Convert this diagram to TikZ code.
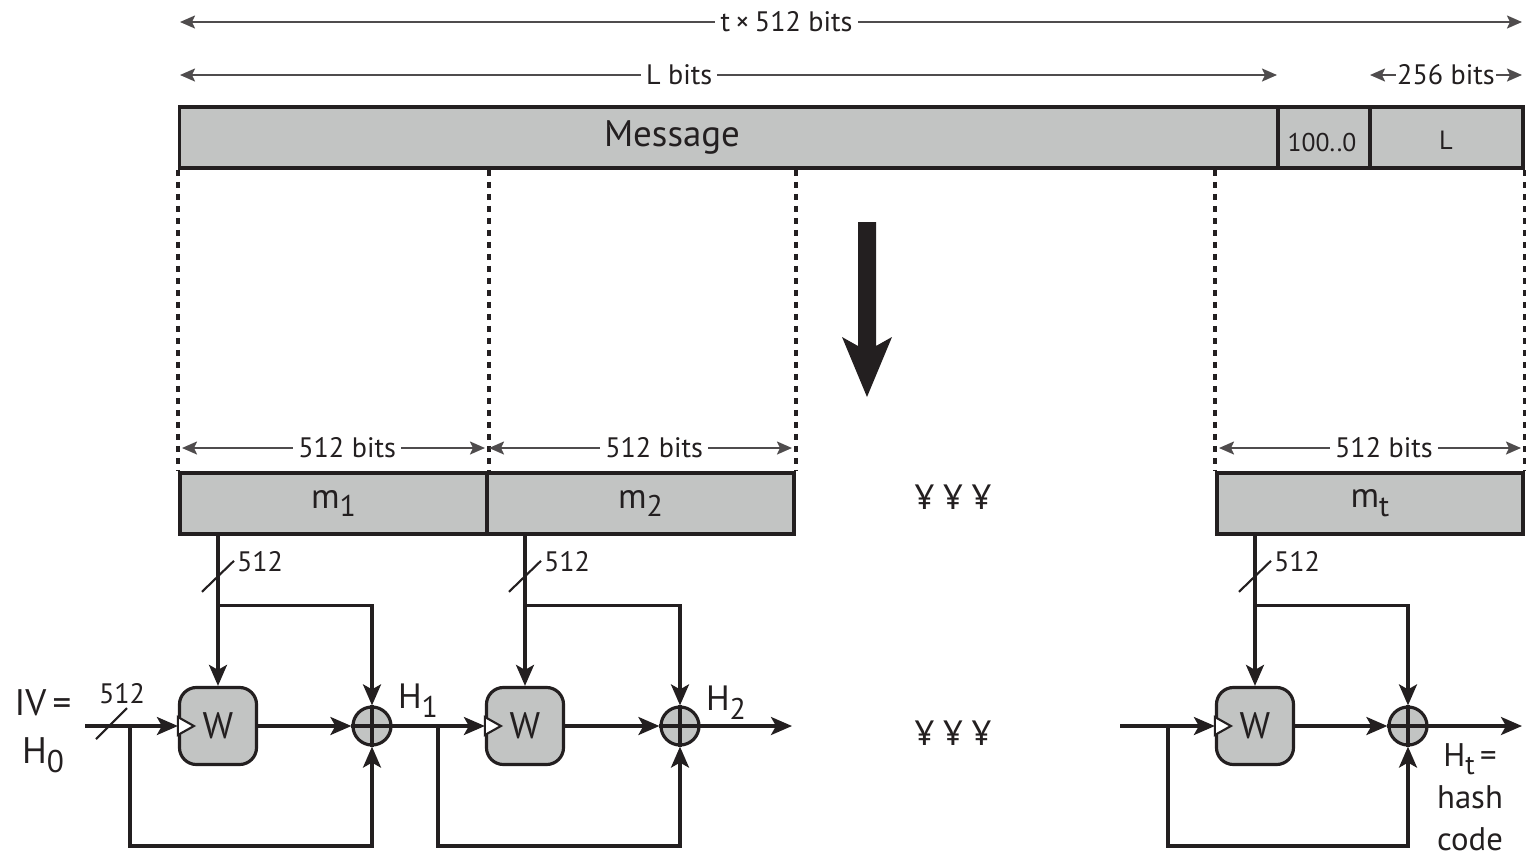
\documentclass[tikz,border=0pt]{standalone}
\usepackage{fontspec}
\setmainfont{PT Sans}
\usetikzlibrary{arrows.meta}
\definecolor{ink}{RGB}{35,31,32}
\definecolor{boxgray}{RGB}{194,196,195}
\newcommand\mysub[1]{\raisebox{-0.5ex}{\scalebox{0.85}{#1}}}
\begin{document}
\begin{tikzpicture}[x=0.01cm,y=-0.01cm,
  every node/.style={inner sep=0pt, text=ink},
  bar/.style={draw=ink, line width=1pt, fill=boxgray, minimum height=0.61cm, inner sep=0pt},
  wbox/.style={draw=ink, line width=0.9pt, fill=boxgray, rounded corners=0.17cm, minimum width=0.77cm, minimum height=0.77cm, font=\fontsize{10.5}{12}\selectfont},
  xorc/.style={circle, draw=ink, line width=0.9pt, fill=boxgray, minimum size=0.38cm},
  wire/.style={draw=ink, line width=0.9pt},
  slash/.style={draw=ink, line width=0.6pt},
  arr/.style={wire, -{Stealth[length=0.21cm,width=0.18cm,inset=0.05cm]}},
  dimline/.style={draw=ink!80, line width=0.55pt, {Stealth[length=0.15cm,width=0.13cm,inset=0.03cm]}-{Stealth[length=0.15cm,width=0.13cm,inset=0.03cm]}},
  dots/.style={draw=ink, line width=1.1pt, dash pattern=on 0.065cm off 0.055cm},
  big/.style={font=\fontsize{10}{12}\selectfont},
  small/.style={font=\fontsize{8}{9.5}\selectfont},
  lbl/.style={fill=white, inner xsep=1.5pt, inner ysep=1pt, small},
]
\useasboundingbox (0,0) rectangle (1526,857);

% top dimension lines
\coordinate (tA) at (180,22); \coordinate (tB) at (1522,22);
\draw[dimline] (tA) -- (tB) node[lbl,pos=0.452] (tlab) {t\kern1.5pt×\kern1.5pt512 bits};
\coordinate (lA) at (180,75); \coordinate (lB) at (1277,75);
\draw[dimline] (lA) -- (lB) node[lbl,pos=0.455] (llab) {L bits};
\coordinate (sA) at (1370,75); \coordinate (sB) at (1522,75);
\draw[dimline] (sA) -- (sB) node[lbl,pos=0.5,inner xsep=0.3pt] (slab) {256 bits};

% message bar
\node[bar, minimum width=10.98cm] (msg) at (729,137.5) {};
\node[bar, minimum width=0.92cm] (pad) at (1324,137.5) {};
\node[bar, minimum width=1.53cm] (len) at (1446.5,137.5) {};
\node[font=\fontsize{10.5}{12}\selectfont] (msgt) at (672,137) {Message};
\node[font=\fontsize{7.3}{9}\selectfont] (padt) at (1322,143) {100..0};
\node[font=\fontsize{7.5}{9}\selectfont] (lent) at (1446,140) {L};

% blocks
\node[bar, minimum width=3.07cm, big] (m1) at (333.5,503.5) {m\mysub{1}};
\node[bar, minimum width=3.07cm, big] (m2) at (640.5,503.5) {m\mysub{2}};
\node[bar, minimum width=3.06cm, big] (mt) at (1370,503.5) {m\mysub{t}};

% dotted guide lines
\draw[dots] (m1.north west |- msg.south) -- (m1.north west);
\draw[dots] (m1.north east |- msg.south) -- (m1.north east);
\draw[dots] (m2.north east |- msg.south) -- (m2.north east);
\draw[dots] (mt.north west |- msg.south) -- (mt.north west);
\draw[dots] (mt.north east |- msg.south) -- (mt.north east);

% 512 bits dims
\draw[dimline] (182,448) -- (485,448) node[lbl,pos=0.545] {512 bits};
\draw[dimline] (489,448) -- (792,448) node[lbl,pos=0.545] {512 bits};
\draw[dimline] (1219,448) -- (1521,448) node[lbl,pos=0.546] {512 bits};

% big down arrow
\fill[ink] (858,222) -- (876,222) -- (876,346) -- (892,337) -- (867,397) -- (842,337) -- (858,346) -- cycle;

% dots
\node[big] (dotsA) at (953,497) {¥ ¥ ¥};
\node[big] (dotsB) at (953,733) {¥ ¥ ¥};

% compression stages
\node[wbox] (W1) at (218,726) {W};
\node[xorc] (X1) at (372,726) {};
\node[wbox] (W2) at (525,726) {W};
\node[xorc] (X2) at (680,726) {};
\node[wbox] (W3) at (1255,726) {W};
\node[xorc] (X3) at (1408,726) {};

\foreach \w in {W1,W2,W3}{
  \draw[ink, line width=0.6pt, fill=white, line join=miter] ([yshift=0.09cm]\w.west) -- ([xshift=0.16cm]\w.west) -- ([yshift=-0.09cm]\w.west) -- cycle;
}
\foreach \x in {X1,X2,X3}{
  \draw[wire] (\x.north) -- (\x.south) (\x.west) -- (\x.east);
}

% message inputs
\foreach \w/\x/\m in {W1/X1/m1, W2/X2/m2, W3/X3/mt}{
  \draw[arr] (\w.north |- \m.south) -- (\w.north);
  \coordinate (br-\w) at ([yshift=-0.70cm]\w.north |- \m.south);
  \draw[arr] (br-\w) -| (\x.north);
  \draw[slash] ([yshift=-0.41cm]\w.north |- \m.south) ++(-16,15) -- ++(32,-31);
  \node[small] at ([xshift=0.42cm,yshift=-0.26cm]\w.north |- \m.south) {512};
}

% chaining
\coordinate (in1) at (85,726);
\coordinate (f1) at (130,726);
\coordinate (g1) at (130,846);
\draw[arr] (in1) -- (W1.west);
\draw[arr] (f1) -- (g1) -| (X1.south);
\draw[slash] (96,739) -- (127,708);
\node[small] (iv512) at (122,694) {512};
\node[align=center, font=\fontsize{10.5}{13.6}\selectfont] (iv) at (43,731) {IV\,=\\H\mysub{0}};
\draw[arr] (W1.east) -- (X1.west);

\draw[arr] (X1.east) -- (W2.west);
\coordinate (f2) at (438,726);
\coordinate (g2) at (438,846);
\draw[arr] (f2) -- (g2) -| (X2.south);
\node[font=\fontsize{10}{12}\selectfont] (h1) at (418,701) {H\mysub{1}};
\draw[arr] (W2.east) -- (X2.west);
\coordinate (out2) at (792,726);
\draw[arr] (X2.east) -- (out2);
\node[font=\fontsize{10}{12}\selectfont] (h2) at (726,703) {H\mysub{2}};

\coordinate (in3) at (1120,726);
\coordinate (f3) at (1168,726);
\coordinate (g3) at (1168,846);
\draw[arr] (in3) -- (W3.west);
\draw[arr] (f3) -- (g3) -| (X3.south);
\draw[arr] (W3.east) -- (X3.west);
\coordinate (out3) at (1522,726);
\draw[arr] (X3.east) -- (out3);
\node[align=center, font=\fontsize{9.3}{12}\selectfont] (ht) at (1470,797) {H\mysub{t}\,=\\hash\\code};
\end{tikzpicture}
\end{document}
